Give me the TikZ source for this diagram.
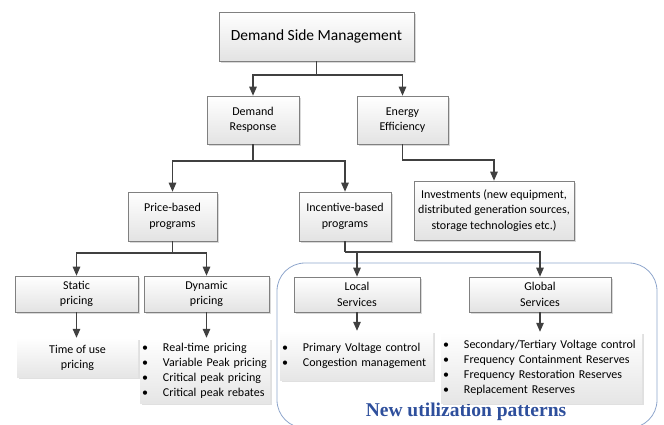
\documentclass[tikz,border=0pt]{standalone}
\usepackage{fontspec}
\setmainfont{Carlito}
\newfontfamily\serifbold{Liberation Serif}
\usetikzlibrary{arrows.meta,shadows}
\definecolor{linec}{HTML}{404040}
\definecolor{boxline}{HTML}{808080}
\definecolor{blueframe}{HTML}{8FA6CC}
\definecolor{bluetext}{HTML}{2E4F9C}
\newcommand{\bul}[1]{\makebox[21pt][l]{\textbullet}#1}
\tikzset{
  box/.style={draw=boxline, line width=0.6pt, top color=white, bottom color=black!11,
    drop shadow={shadow xshift=1.5pt, shadow yshift=-1.5pt, opacity=0.15, fill=black},
    align=center, inner sep=2pt, font=\fontsize{12}{15.5}\selectfont},
  listbox/.style={draw=none, top color=white, bottom color=black!10,
    drop shadow={shadow xshift=1.5pt, shadow yshift=-1.5pt, opacity=0.12, fill=black},
    inner ysep=2pt, font=\fontsize{12}{15}\selectfont},
  line/.style={draw=linec, line width=1.2pt},
  arr/.style={line, -{Triangle[length=9pt,width=7.5pt]}},
}
\begin{document}
\begin{tikzpicture}[x=1pt,y=-1pt]
\useasboundingbox (0,0) rectangle (664,424);
% frame of new utilization patterns
\draw[blueframe, line width=0.8pt, rounded corners=28pt] (277,263) rectangle (657,428);
\node[font=\serifbold\bfseries\fontsize{19.5}{21}\selectfont, text=bluetext] (nup) at (466,412) {New utilization patterns};

\node[box, minimum width=195, minimum height=49, font=\fontsize{15.5}{18}\selectfont] (dsm) at (316.5,36.5) {Demand Side Management};
\node[box, minimum width=92, minimum height=48] (dr) at (253,120) {Demand\\Response};
\node[box, minimum width=91, minimum height=48] (ee) at (402.5,120) {Energy\\Efficiency};
\node[box, minimum width=89, minimum height=49] (pb) at (172.5,216.5) {Price-based\\programs};
\node[box, minimum width=92, minimum height=49] (ib) at (345,216.5) {Incentive-based\\programs};
\node[box, minimum width=160, minimum height=59] (inv) at (494,210.5) {Investments (new equipment,\\distributed generation sources,\\storage technologies etc.)};
\node[box, minimum width=123, minimum height=36] (sp) at (76.5,294) {Static\\pricing};
\node[box, minimum width=125, minimum height=36] (dp) at (206.5,294) {Dynamic\\pricing};
\node[box, minimum width=126, minimum height=35] (ls) at (357,294.5) {Local\\Services};
\node[box, minimum width=142, minimum height=35] (gs) at (540,294.5) {Global\\Services};

\node[listbox, minimum width=121, minimum height=39, align=center] (tou) at (77.5,357.5) {Time of use\\pricing};
\node[listbox, minimum width=130, minimum height=65, text width=126, inner xsep=2pt, align=left] (dl) at (205,370.5)
  {\bul{Real-time pricing}\\\bul{Variable Peak pricing}\\\bul{Critical peak pricing}\\\bul{Critical peak rebates}};
\node[listbox, minimum width=153, minimum height=49, text width=149, inner xsep=2pt, align=left] (ll) at (356.5,355.5)
  {\bul{Primary Voltage control}\\\bul{Congestion management}};
\node[listbox, minimum width=201, minimum height=71, text width=197, inner xsep=2pt, align=left] (gl) at (541.5,367.5)
  {\bul{Secondary/Tertiary Voltage control}\\\bul{Frequency Containment Reserves}\\\bul{Frequency Restoration Reserves}\\\bul{Replacement Reserves}};

% connectors
\coordinate (j1) at (316.5,75);
\coordinate (j2) at (253,161);
\coordinate (j3) at (402.5,160);
\coordinate (j4) at (172.5,253);
\coordinate (j5) at (345,252);
\draw[line] (dsm.south) -- (j1);
\draw[arr] (j1) -| (dr.north);
\draw[arr] (j1) -| (ee.north);
\draw[line] (dr.south) -- (j2);
\draw[arr] (j2) -| (pb.north);
\draw[arr] (j2) -| (ib.north);
\draw[arr] (ee.south) -- (j3) -| (inv.north);
\draw[line] (pb.south) -- (j4);
\draw[arr] (j4) -| (sp.north);
\draw[arr] (j4) -| (dp.north);
\draw[line] (ib.south) -- (j5);
\draw[arr] (j5) -| (ls.north);
\draw[arr] (j5) -| (gs.north);
\draw[arr] (sp.south) -- (sp.south |- tou.north);
\draw[arr] (dp.south) -- (dp.south |- dl.north);
\draw[arr] (ls.south) -- (ls.south |- ll.north);
\draw[arr] (gs.south) -- (gs.south |- gl.north);
\end{tikzpicture}
\end{document}
